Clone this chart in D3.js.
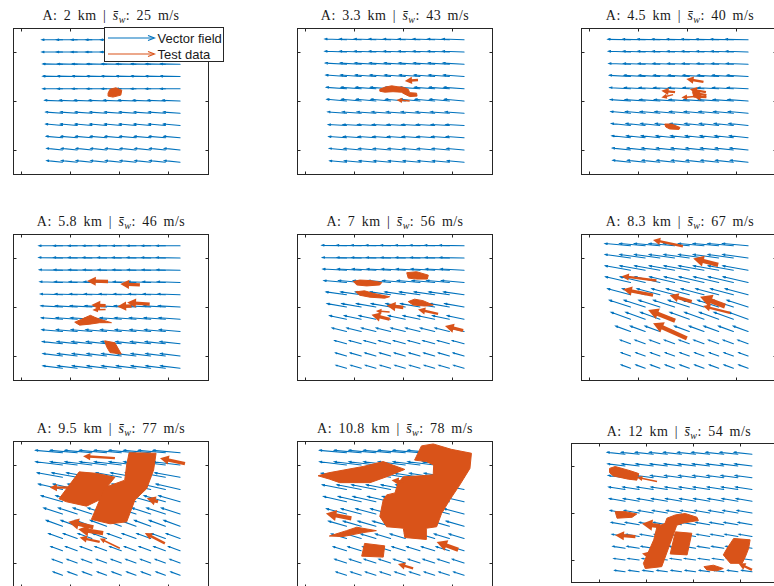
<!DOCTYPE html>
<html><head><meta charset="utf-8">
<script src="https://cdn.jsdelivr.net/npm/d3@7"></script>
<style>body{margin:0;background:#fff}svg{display:block}</style>
</head><body>
<svg id="c" width="774" height="586"></svg>
<script>
// ---------------- DATA ----------------
const altitudes = ["2","3.3","4.5","5.8","7","8.3","9.5","10.8","12"];
const meanSpeeds = [25,43,40,46,56,67,77,78,54];
const xTicks = [0,1,2,3];
const yTicks = [0,1,2];
const gridRows = [2.25,2.0,1.75,1.5,1.25,1.0,0.75,0.5,0.25,0.0,-0.25];
const gridCols = [0.55,0.85,1.15,1.45,1.75,2.05,2.35,2.65,2.95,3.25];
const firstCol = [1,1,1,1,1,1,1,1,0];
// row angles (deg, downward slope toward the right), top row first
const rowAngles = [
  [0,0,1,1,0,2,4,5,5,6,6],
  [2,2,3,4,4,5,4,3,4,5,5],
  [1,2,2,3,3,4,5,6,6,6,6],
  [0,1,1,2,2,3,4,5,6,7,7],
  [1,1,3,5,8,10,12,14,15,16,16],
  [5,8,10,13,15,18,20,20,20,20,20],
  [5,7,10,13,16,18,20,20,20,20,20],
  [5,7,9,11,13,15,16,17,17,18,18],
  [6,7,8,9,10,10,10,10,9,8,8]
];
// row vector lengths (axis units), top row first
const rowLengths = [
  [0.42,0.42,0.40,0.40,0.40,0.36,0.34,0.34,0.33,0.32,0.32],
  [0.44,0.44,0.43,0.42,0.41,0.40,0.38,0.37,0.36,0.35,0.34],
  [0.46,0.45,0.44,0.43,0.42,0.41,0.40,0.39,0.38,0.37,0.36],
  [0.48,0.48,0.47,0.46,0.45,0.44,0.43,0.42,0.41,0.40,0.40],
  [0.50,0.49,0.48,0.46,0.42,0.40,0.35,0.30,0.25,0.23,0.22],
  [0.52,0.52,0.52,0.52,0.48,0.45,0.42,0.32,0.22,0.20,0.20],
  [0.55,0.55,0.52,0.50,0.45,0.40,0.35,0.30,0.25,0.22,0.20],
  [0.55,0.55,0.52,0.50,0.48,0.42,0.38,0.32,0.28,0.25,0.22],
  [0.38,0.37,0.36,0.35,0.34,0.32,0.30,0.28,0.26,0.24,0.22]
];
// test data vectors: [x, y, u, v, count]
const testVectors = [
  [],
  [[2.31,1.43,-0.27,-0.02,2],[2.14,1.00,-0.27,0.02,1]],
  [[2.34,1.39,-0.35,0.06,2],[1.76,1.18,-0.28,0.03,2],[1.72,1.13,-0.24,-0.06,1],
   [2.39,1.18,-0.33,0.06,2],[2.40,1.12,-0.30,0.05,2],[2.40,1.08,-0.27,0.01,2],[2.16,1.09,-0.27,-0.02,1]],
  [[1.78,1.52,-0.43,0.01,3],[2.43,1.45,-0.40,0.02,3],[1.73,1.03,-0.29,0.01,3],
   [1.73,0.95,-0.27,-0.01,1],[2.26,1.02,-0.29,-0.01,3],[2.63,1.06,-0.46,0.03,3]],
  [[2.01,0.99,-0.34,0.04,3],[2.72,0.86,-0.41,0.09,2],[1.73,0.90,-0.28,0.02,1],
   [1.73,0.75,-0.37,0.09,3],[3.23,0.52,-0.37,0.09,3]],
  [[1.92,2.24,-0.61,0.13,2],[2.64,1.86,-0.51,0.13,4],[1.38,1.54,-0.71,0.09,2],
   [1.31,1.24,-0.61,0.12,3],[2.10,1.11,-0.45,0.13,3],[2.78,1.02,-0.51,0.19,5],
   [2.88,0.88,-0.55,0.14,2],[1.76,0.72,-0.55,0.22,4],[2.00,0.36,-0.69,0.31,4]],
  [[1.92,2.14,-0.65,0.04,2],[3.35,2.03,-0.51,0.11,3],[1.00,1.54,-0.41,0,2],
   [2.80,1.25,-0.23,0.07,3],[1.48,0.73,-0.51,0.11,4],[1.68,0.61,-0.51,0.08,4],
   [1.61,0.43,-0.41,0.09,2],[2.02,0.30,-0.41,0.20,1],[2.94,0.40,-0.41,0.21,2]],
  [[2.01,1.66,-0.24,0.03,2],[0.95,0.91,-0.52,0.10,4],[3.13,0.27,-0.44,0.16,4],[2.21,-0.11,-0.31,0.09,2]],
  [[1.23,1.67,-0.43,0.09,1],[0.77,0.50,-0.43,0.03,3],[1.30,0.72,-0.39,0.05,4],
   [3.25,-0.21,-0.29,0.14,2],[1.05,0.11,-0.14,0.03,2]]
];
// dense test data regions (outlines of overlapping vectors)
const testAreas = [
  [[[1.78,1.16],[1.82,1.24],[1.94,1.27],[2.06,1.22],[2.04,1.12],[1.88,1.08],[1.78,1.10]]],
  [[[1.53,1.24],[1.63,1.28],[1.77,1.31],[1.90,1.29],[2.01,1.28],[2.11,1.24],[2.14,1.17],[2.28,1.16],[2.29,1.10],[2.14,1.09],[2.04,1.14],[1.97,1.18],[1.80,1.19],[1.63,1.18],[1.53,1.20]]],
  [[[2.12,1.20],[2.25,1.21],[2.30,1.08],[2.14,1.08]],
   [[1.55,0.53],[1.69,0.53],[1.86,0.46],[1.84,0.42],[1.65,0.43],[1.57,0.47]]],
  [[[1.10,0.69],[1.24,0.75],[1.35,0.80],[1.42,0.83],[1.51,0.79],[1.61,0.75],[1.85,0.68],[1.61,0.68],[1.41,0.65],[1.20,0.63]],
   [[1.71,0.31],[1.92,0.27],[2.05,0.04],[1.82,0.07],[1.75,0.19]]],
  [[[2.08,1.70],[2.28,1.72],[2.52,1.65],[2.50,1.57],[2.28,1.57],[2.11,1.59]],
   [[0.99,1.52],[1.12,1.55],[1.33,1.54],[1.57,1.50],[1.53,1.45],[1.26,1.43],[1.06,1.45]],
   [[1.04,1.31],[1.22,1.33],[1.39,1.28],[1.73,1.21],[1.63,1.18],[1.33,1.20],[1.12,1.24]],
   [[2.11,1.11],[2.24,1.16],[2.41,1.13],[2.62,1.04],[2.45,1.02],[2.21,1.04]]],
  [],
  [[[0.78,1.31],[1.19,1.86],[1.54,1.83],[1.92,1.75],[1.75,1.54],[1.61,1.29],[1.34,1.16],[0.93,1.25]],
   [[2.21,2.25],[2.76,2.24],[2.71,1.90],[2.57,1.52],[2.33,1.29],[2.16,0.84],[1.82,0.80],[1.44,0.89],[1.61,1.29],[1.71,1.54],[2.12,1.69],[2.16,2.0]]],
  [[[0.27,1.78],[0.48,1.84],[1.19,1.97],[1.60,2.07],[2.04,1.91],[1.67,1.76],[1.33,1.64],[0.71,1.64],[0.51,1.71]],
   [[2.24,2.10],[2.38,2.39],[2.62,2.43],[2.99,2.32],[3.40,2.24],[3.37,1.93],[3.16,1.59],[2.96,1.29],[2.79,1.01],[2.69,0.74],[2.48,0.71],[2.48,0.48],[2.04,0.52],[2.01,0.71],[1.67,0.74],[1.53,0.95],[1.60,1.29],[1.67,1.39],[1.84,1.43],[1.90,1.63],[2.01,1.76],[2.38,1.78],[2.62,1.80],[2.63,2.00],[2.48,2.07]],
   [[0.50,0.55],[0.85,0.66],[1.06,0.73],[1.46,0.66],[1.19,0.62],[0.78,0.54]],
   [[1.22,0.40],[1.63,0.35],[1.60,0.12],[1.16,0.14]]],
  [[[0.22,1.95],[0.34,1.99],[0.66,1.90],[0.84,1.84],[0.80,1.70],[0.62,1.72],[0.30,1.79],[0.22,1.86]],
   [[0.34,1.03],[0.55,1.03],[0.80,0.98],[0.70,0.91],[0.38,0.89]],
   [[1.44,0.89],[1.62,0.96],[1.83,0.99],[2.08,0.91],[2.11,0.84],[1.79,0.79],[1.65,0.74],[1.51,0.35],[1.33,-0.14],[0.98,-0.18],[0.94,-0.07],[1.16,0.43],[1.23,0.71],[1.40,0.78]],
   [[1.62,0.60],[1.97,0.57],[1.87,0.11],[1.51,0.13]],
   [[2.86,0.46],[3.21,0.43],[3.18,0.25],[3.11,0.07],[3.04,-0.07],[2.79,-0.07],[2.64,0.11],[2.72,0.25]],
   [[2.23,-0.14],[2.43,-0.11],[2.64,-0.18],[2.50,-0.23],[2.29,-0.21]]]
];
const legendLabels = ["Vector field","Test data"];

// ---------------- LAYOUT ----------------
const BLUE = "#0072BD", ORANGE = "#D95319", AXC = "#262626";
const boxes = [
  {l:13,t:28,w:195,h:146},{l:297,t:28,w:195,h:146},{l:581,t:28,w:195,h:146},
  {l:13,t:234,w:195,h:146},{l:297,t:234,w:195,h:146},{l:581,t:234,w:195,h:146},
  {l:13,t:441,w:195,h:146},{l:297,t:441,w:195,h:146},{l:571,t:443,w:212,h:139}
];
const xDomains = [[-0.16,3.82],[-0.16,3.82],[-0.16,3.82],[-0.16,3.82],[-0.16,3.82],[-0.16,3.82],[-0.16,3.82],[-0.16,3.82],[-0.6,3.91]];
const yDomains = [[-0.49,2.49],[-0.49,2.49],[-0.49,2.49],[-0.49,2.49],[-0.49,2.49],[-0.49,2.49],[-0.49,2.49],[-0.49,2.49],[-0.467,2.49]];
const titleX = [111,395,680,111,395,680,111,395,679];
const titleY = [20,20,20,226,226,226,433,433,436];

const svg = d3.select("#c");

function headV(x2,y2,ux,uy,hs,angDeg){
  const a = angDeg*Math.PI/180, bx=-ux, by=-uy;
  const r1x = bx*Math.cos(a)-by*Math.sin(a), r1y = bx*Math.sin(a)+by*Math.cos(a);
  const r2x = bx*Math.cos(-a)-by*Math.sin(-a), r2y = bx*Math.sin(-a)+by*Math.cos(-a);
  return [[x2+r1x*hs,y2+r1y*hs],[x2+r2x*hs,y2+r2y*hs]];
}

boxes.forEach((b,p)=>{
  const x = d3.scaleLinear().domain(xDomains[p]).range([b.l,b.l+b.w]);
  const y = d3.scaleLinear().domain(yDomains[p]).range([b.t+b.h,b.t]);
  const g = svg.append("g");
  const clipId = "clip"+p;
  g.append("clipPath").attr("id",clipId).append("rect")
    .attr("x",b.l).attr("y",b.t).attr("width",b.w).attr("height",b.h);
  const plot = g.append("g").attr("clip-path",`url(#${clipId})`);

  // vector field
  const vecs = [];
  gridRows.forEach((ry,ri)=>{
    const a = rowAngles[p][ri]*Math.PI/180, L = rowLengths[p][ri];
    gridCols.slice(firstCol[p]).forEach(cx=>{
      vecs.push({x:cx,y:ry,u:-L*Math.cos(a),v:L*Math.sin(a)});
    });
  });
  plot.append("g").selectAll("path").data(vecs).join("path")
    .attr("d",d=>{
      const x1=x(d.x), y1=y(d.y), x2=x(d.x+d.u), y2=y(d.y+d.v);
      const len=Math.hypot(x2-x1,y2-y1), ux=(x2-x1)/len, uy=(y2-y1)/len;
      const h=headV(x2,y2,ux,uy,Math.min(2.2,0.12*len),20);
      return `M${x1},${y1}L${x2},${y2}M${h[0][0]},${h[0][1]}L${x2},${y2}L${h[1][0]},${h[1][1]}`;
    })
    .attr("fill","none").attr("stroke",BLUE).attr("stroke-width",1.1)
    .attr("stroke-linecap","round");

  // test data areas
  plot.append("g").selectAll("path").data(testAreas[p]).join("path")
    .attr("d",d=>d3.line().x(q=>x(q[0])).y(q=>y(q[1])).curve(d3.curveLinearClosed)(d))
    .attr("fill",ORANGE).attr("stroke",ORANGE).attr("stroke-width",1).attr("stroke-linejoin","round");

  // test data vectors
  const tv = plot.append("g");
  testVectors[p].forEach(d=>{
    const x1=x(d[0]), y1=y(d[1]), x2=x(d[0]+d[2]), y2=y(d[1]+d[3]);
    const len=Math.hypot(x2-x1,y2-y1), ux=(x2-x1)/len, uy=(y2-y1)/len;
    const w=d[4], sw=0.6+0.9*w, hl=4+1.6*w, hw=1.6+1.0*w;
    const bx=x2-ux*hl, by=y2-uy*hl;
    tv.append("line").attr("x1",x1).attr("y1",y1).attr("x2",bx+ux*1).attr("y2",by+uy*1)
      .attr("stroke",ORANGE).attr("stroke-width",sw);
    tv.append("path").attr("d",`M${x2},${y2}L${bx-uy*hw},${by+ux*hw}L${bx+uy*hw},${by-ux*hw}Z`)
      .attr("fill",ORANGE);
  });

  // axes box and ticks
  g.append("rect").attr("x",b.l+0.5).attr("y",b.t+0.5).attr("width",b.w).attr("height",b.h)
    .attr("fill","none").attr("stroke",AXC).attr("stroke-width",1);
  const tk = g.append("g").attr("stroke",AXC).attr("stroke-width",1);
  xTicks.forEach(t=>{
    const px=Math.round(x(t))+0.5;
    tk.append("line").attr("x1",px).attr("x2",px).attr("y1",b.t+b.h+0.5).attr("y2",b.t+b.h-2.5);
    tk.append("line").attr("x1",px).attr("x2",px).attr("y1",b.t+0.5).attr("y2",b.t+3.5);
  });
  yTicks.forEach(t=>{
    const py=Math.round(y(t))+0.5;
    tk.append("line").attr("y1",py).attr("y2",py).attr("x1",b.l+0.5).attr("x2",b.l+3.5);
    tk.append("line").attr("y1",py).attr("y2",py).attr("x1",b.l+b.w+0.5).attr("x2",b.l+b.w-2.5);
  });

  // title
  const t = svg.append("text").attr("x",titleX[p]).attr("y",titleY[p])
    .attr("text-anchor","middle").attr("font-family","'Liberation Serif','DejaVu Serif',serif")
    .attr("font-size","14px").attr("fill","#1a1a1a")
    .attr("letter-spacing","0.45px").attr("word-spacing","2.5px");
  t.append("tspan").text(`A: ${altitudes[p]} km | `);
  t.append("tspan").attr("font-style","italic").text("s\u0304");
  t.append("tspan").attr("font-style","italic").attr("font-size","10px").attr("dy",3).text("w");
  t.append("tspan").attr("dy",-3).text(`: ${meanSpeeds[p]} m/s`);
});

// legend (in first panel)
const lg = svg.append("g");
lg.append("rect").attr("x",104.5).attr("y",27.5).attr("width",119).attr("height",34)
  .attr("fill","#fff").attr("stroke",AXC).attr("stroke-width",1);
[BLUE,ORANGE].forEach((c,i)=>{
  const yy = 38 + i*16;
  lg.append("line").attr("x1",108).attr("x2",154).attr("y1",yy).attr("y2",yy)
    .attr("stroke",c).attr("stroke-width",1.1);
  lg.append("path").attr("d",`M148,${yy-2.5}L154.5,${yy}L148,${yy+2.5}`)
    .attr("fill","none").attr("stroke",c).attr("stroke-width",1.1);
  lg.append("text").attr("x",157.5).attr("y",yy+4.5).attr("font-family","'Liberation Sans',Arial,sans-serif")
    .attr("font-size","13px").attr("fill","#1a1a1a").text(legendLabels[i]);
});
</script>
</body></html>
